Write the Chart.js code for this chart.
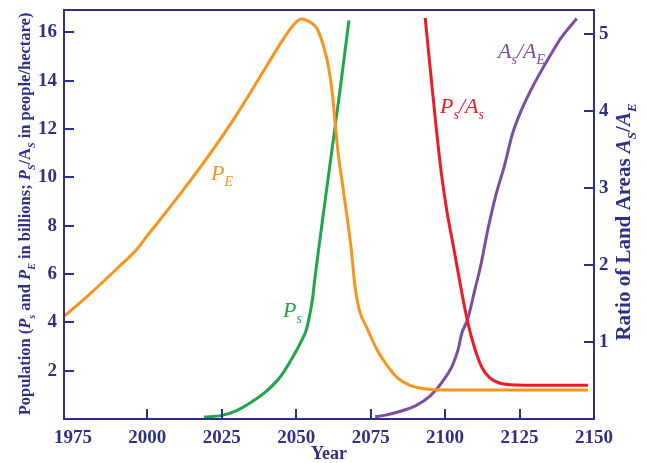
<!DOCTYPE html>
<html>
<head>
<script src="https://cdn.jsdelivr.net/npm/chart.js@4.4.0/dist/chart.umd.min.js"></script>
<style>
body { margin: 0; background: #fff; }
</style>
</head>
<body>
<canvas id="popChart" width="647" height="463"></canvas>

<script>
// tick labels
var xTicks = [1975, 2000, 2025, 2050, 2075, 2100, 2125, 2150];
var leftTicks = [2, 4, 6, 8, 10, 12, 14, 16];
var rightTicks = [1, 2, 3, 4, 5];

// P_E, population of Earth (billions)
var peYears  = [1972, 1980, 1990, 1997, 2000, 2003, 2010, 2020, 2030, 2040, 2045, 2049, 2051.7, 2055, 2057, 2059, 2060.7, 2062, 2064, 2066, 2068.5, 2069.6, 2071, 2074, 2077, 2080, 2084, 2088, 2093, 2100, 2148];
var peValues = [4.25, 5.1, 6.25, 7.1, 7.6, 8.05, 9.15, 10.8, 12.6, 14.6, 15.6, 16.3, 16.56, 16.4, 16.15, 15.5, 14.66, 13.6, 11.1, 9.3, 7.0, 5.62, 4.6, 3.7, 2.9, 2.3, 1.7, 1.4, 1.25, 1.2, 1.2];

// P_s, population of the settlement (billions)
var psYears  = [2019, 2025, 2030, 2035, 2040, 2045, 2049, 2052, 2053.4, 2054.5, 2055.5, 2056.2, 2057.5, 2059, 2062, 2065, 2067.7];
var psValues = [0.08, 0.15, 0.35, 0.7, 1.15, 1.8, 2.6, 3.3, 3.7, 4.3, 5.0, 5.76, 7.0, 8.4, 11.14, 13.9, 16.5];

// P_s/A_s (people/hectare)
var densYears  = [2093.3, 2095, 2096.8, 2098.7, 2100.6, 2103, 2105.5, 2107.6, 2110, 2112.5, 2115, 2118, 2122, 2130, 2148];
var densValues = [16.6, 14.5, 12.3, 10.2, 8.6, 7.0, 5.3, 4.0, 2.9, 2.1, 1.7, 1.5, 1.42, 1.4, 1.4];

// A_s/A_E, ratio of land areas (right axis)
var ratioYears  = [2076.5, 2080, 2085, 2090, 2095, 2099, 2102.5, 2104.5, 2105.5, 2107.6, 2110, 2112, 2114.3, 2117, 2120, 2122.6, 2125.5, 2128.8, 2132, 2135, 2139, 2144.2];
var ratioValues = [0.03, 0.05, 0.1, 0.17, 0.3, 0.48, 0.7, 0.92, 1.1, 1.3, 1.68, 2.0, 2.45, 2.9, 3.3, 3.7, 4.0, 4.27, 4.5, 4.7, 4.95, 5.2];

var navy = '#2e3085';
var orange = '#f7941d';
var green = '#1fa64a';
var red = '#ed1c24';
var purple = '#7d4ea0';
var serif = '"Liberation Serif", "DejaVu Serif", serif';

function pts(xs, ys) {
	return xs.map(function(x, i) { return { x: x, y: ys[i] }; });
}

// draws text made of pieces: [text, kind], kind = 'n' normal, 'i' italic, 's' subscript
function richText(ctx, parts, x, y, size, color, bold, centered) {
	var subSize = Math.round(size * 0.62);
	function font(kind) {
		var s = kind == 's' ? subSize : size;
		return (kind == 'n' ? '' : 'italic ') + (bold ? 'bold ' : '') + s + 'px ' + serif;
	}
	var total = 0;
	parts.forEach(function(p) { ctx.font = font(p[1]); total += ctx.measureText(p[0]).width; });
	var cx = centered ? x - total / 2 : x;
	ctx.fillStyle = color;
	ctx.textAlign = 'left';
	ctx.textBaseline = 'alphabetic';
	parts.forEach(function(p) {
		ctx.font = font(p[1]);
		ctx.fillText(p[0], cx, p[1] == 's' ? y + size * 0.28 : y);
		cx += ctx.measureText(p[0]).width;
	});
}

var extras = {
	id: 'extras',
	afterDraw: function(chart) {
		var ctx = chart.ctx, a = chart.chartArea;
		var sx = chart.scales.x, sl = chart.scales.y, sr = chart.scales.y2;
		ctx.save();

		// frame and inward ticks
		ctx.strokeStyle = navy;
		ctx.lineWidth = 2;
		ctx.strokeRect(a.left, a.top, a.right - a.left, a.bottom - a.top);
		ctx.beginPath();
		xTicks.slice(1, -1).forEach(function(v) {
			var px = Math.round(sx.getPixelForValue(v));
			ctx.moveTo(px, a.bottom); ctx.lineTo(px, a.bottom - 10);
		});
		leftTicks.forEach(function(v) {
			var py = Math.round(sl.getPixelForValue(v));
			ctx.moveTo(a.left, py); ctx.lineTo(a.left + 10, py);
		});
		rightTicks.forEach(function(v) {
			var py = Math.round(sr.getPixelForValue(v));
			ctx.moveTo(a.right, py); ctx.lineTo(a.right - 10, py);
		});
		ctx.stroke();

		// curve labels
		richText(ctx, [['P', 'i'], ['E', 's']], 211, 180, 22, orange, false, false);
		richText(ctx, [['P', 'i'], ['s', 's']], 283, 317, 22, green, false, false);
		richText(ctx, [['P', 'i'], ['s', 's'], ['/', 'i'], ['A', 'i'], ['s', 's']], 440, 113, 22, red, false, false);
		richText(ctx, [['A', 'i'], ['s', 's'], ['/', 'i'], ['A', 'i'], ['E', 's']], 498, 58, 22, purple, false, false);

		// axis titles
		richText(ctx, [['Year', 'n']], (a.left + a.right) / 2, 459, 18, navy, true, true);

		ctx.save();
		ctx.translate(25, 214);
		ctx.rotate(-Math.PI / 2);
		richText(ctx, [['Population (', 'n'], ['P', 'i'], ['s', 's'], [' and ', 'n'], ['P', 'i'], ['E', 's'],
			[' in billions; ', 'n'], ['P', 'i'], ['S', 's'], ['/A', 'n'], ['S', 's'], [' in people/hectare)', 'n']],
			0, 5, 16.5, navy, true, true);
		ctx.restore();

		ctx.save();
		ctx.translate(630, 222);
		ctx.rotate(-Math.PI / 2);
		richText(ctx, [['Ratio of Land Areas ', 'n'], ['A', 'i'], ['S', 's'], ['/', 'n'], ['A', 'i'], ['E', 's']],
			0, 0, 21, navy, true, true);
		ctx.restore();

		ctx.restore();
	}
};

function tickFont() {
	return { family: serif, size: 19, weight: 'bold' };
}

new Chart('popChart', {
	type: 'line',
	data: {
		datasets: [
			{ data: pts(peYears, peValues), borderColor: orange, yAxisID: 'y' },
			{ data: pts(psYears, psValues), borderColor: green, yAxisID: 'y' },
			{ data: pts(densYears, densValues), borderColor: red, yAxisID: 'y' },
			{ data: pts(ratioYears, ratioValues), borderColor: purple, yAxisID: 'y2' }
		]
	},
	options: {
		responsive: false,
		animation: false,
		layout: { padding: { top: 10 } },
		plugins: { legend: { display: false }, tooltip: { enabled: false } },
		elements: {
			point: { radius: 0 },
			line: { borderWidth: 3, cubicInterpolationMode: 'monotone', fill: false }
		},
		scales: {
			x: {
				type: 'linear', min: 1972, max: 2150,
				grid: { display: false, drawTicks: false }, border: { display: false },
				afterFit: function(s) { s.height = 44; s.paddingLeft = 0; s.paddingRight = 0; },
				afterBuildTicks: function(s) { s.ticks = xTicks.map(function(v) { return { value: v }; }); },
				ticks: { color: navy, font: tickFont(), padding: 8, maxRotation: 0, autoSkip: false, callback: function(v) { return v; } }
			},
			y: {
				position: 'left', min: 0, max: 16.93,
				grid: { display: false, drawTicks: false }, border: { display: false },
				afterFit: function(s) { s.width = 64; s.paddingTop = 0; s.paddingBottom = 0; },
				afterBuildTicks: function(s) { s.ticks = leftTicks.map(function(v) { return { value: v }; }); },
				ticks: { color: navy, font: tickFont(), padding: 7 }
			},
			y2: {
				position: 'right', min: 0, max: 5.31,
				grid: { display: false, drawTicks: false }, border: { display: false },
				afterFit: function(s) { s.width = 53; s.paddingTop = 0; s.paddingBottom = 0; },
				afterBuildTicks: function(s) { s.ticks = rightTicks.map(function(v) { return { value: v }; }); },
				ticks: { color: navy, font: tickFont(), padding: 5 }
			}
		}
	},
	plugins: [extras]
});
</script>
</body>
</html>
